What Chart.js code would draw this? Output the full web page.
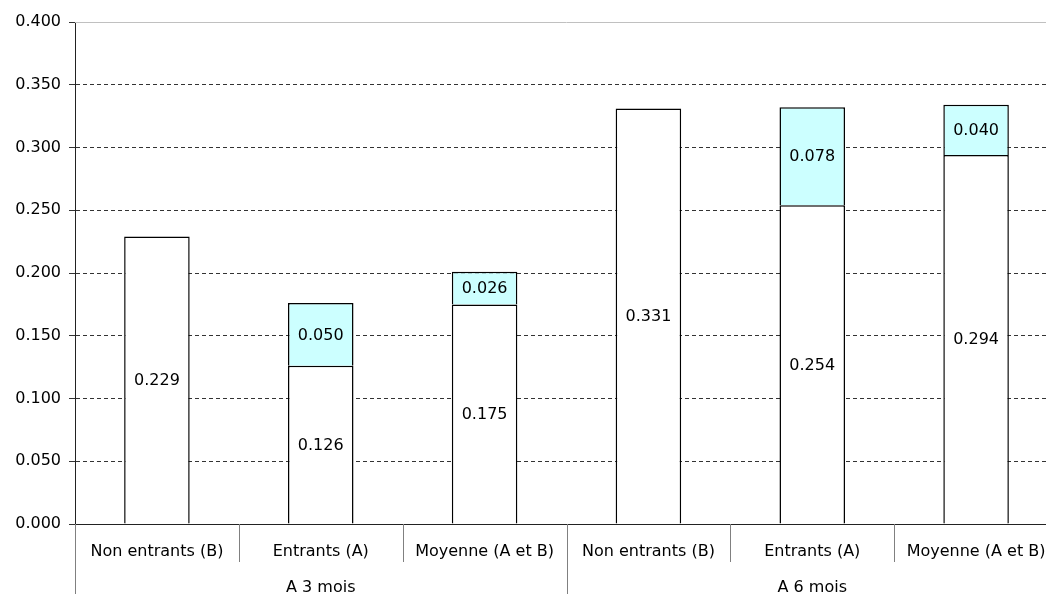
<!DOCTYPE html>
<html lang="fr">
<head>
<meta charset="UTF-8">
<title>A 3 mois / A 6 mois</title>
<script src="https://cdn.jsdelivr.net/npm/chart.js"></script>
<style>
  body { margin: 0; overflow: hidden; background: #fff; }
  #wrap { width: 1060px; height: 594px; }
</style>
</head>
<body>
<div id="wrap"><canvas id="myChart"></canvas></div>
<script>
const categories = ['Non entrants (B)', 'Entrants (A)', 'Moyenne (A et B)',
                    'Non entrants (B)', 'Entrants (A)', 'Moyenne (A et B)'];
const groups = ['A 3 mois', 'A 6 mois'];
const baseValues = [0.229, 0.126, 0.175, 0.331, 0.254, 0.294];
const extraValues = [null, 0.050, 0.026, null, 0.078, 0.040];
const yMin = 0, yMax = 0.4, yStep = 0.05;

const FONT = 'DejaVu Sans';

// values written in the middle of each bar segment
const segmentLabels = {
  id: 'segmentLabels',
  afterDatasetsDraw(chart) {
    const ctx = chart.ctx;
    ctx.save();
    ctx.font = '16px "' + FONT + '"';
    ctx.fillStyle = '#000';
    ctx.textAlign = 'center';
    ctx.textBaseline = 'middle';
    chart.data.datasets.forEach((ds, di) => {
      chart.getDatasetMeta(di).data.forEach((bar, i) => {
        const v = ds.data[i];
        if (v == null) return;
        const p = bar.getProps(['x', 'y', 'base'], true);
        ctx.fillText(v.toFixed(3), p.x, (p.y + p.base) / 2 + 1);
      });
    });
    ctx.restore();
  }
};

// category / group separators under the axis, and the top border
const separators = {
  id: 'separators',
  afterDraw(chart) {
    const ctx = chart.ctx;
    const xs = chart.scales.x;
    const area = chart.chartArea;
    const n = categories.length;
    const w = (xs.right - xs.left) / n;
    ctx.save();
    ctx.lineWidth = 1;
    ctx.strokeStyle = '#c0c0c0';
    ctx.beginPath();
    ctx.moveTo(area.left, Math.round(area.top) + 0.5);
    ctx.lineTo(area.right, Math.round(area.top) + 0.5);
    ctx.stroke();
    ctx.strokeStyle = '#808080';
    for (let i = 0; i <= n; i++) {
      const x = Math.round(xs.left + i * w) + 0.5;
      const long = i % 3 === 0;
      ctx.beginPath();
      ctx.moveTo(x, area.bottom);
      ctx.lineTo(x, long ? chart.height : xs.bottom);
      ctx.stroke();
    }
    ctx.restore();
  }
};

new Chart(document.getElementById('myChart'), {
  type: 'bar',
  data: {
    labels: categories,
    datasets: [{
      data: baseValues,
      backgroundColor: '#ffffff',
      borderColor: '#000000',
      borderWidth: 1.5,
      borderSkipped: 'bottom'
    }, {
      data: extraValues,
      backgroundColor: '#ccffff',
      borderColor: '#000000',
      borderWidth: 1.5,
      borderSkipped: 'bottom'
    }]
  },
  options: {
    responsive: true,
    maintainAspectRatio: false,
    animation: false,
    layout: { padding: { top: 22, right: 2, left: 0, bottom: 0 } },
    categoryPercentage: 1,
    barPercentage: 0.4,
    plugins: { legend: { display: false }, tooltip: { enabled: false } },
    scales: {
      x: {
        stacked: true,
        weight: 0,
        grid: { display: false },
        border: { display: true, color: '#222222', width: 1 },
        ticks: { color: '#000', font: { family: FONT, size: 16 }, padding: 10, maxRotation: 0, autoSkip: false },
        afterFit(scale) { scale.height = 38; }
      },
      x2: {
        type: 'category',
        position: 'bottom',
        labels: groups,
        offset: true,
        weight: 1,
        grid: { display: false },
        border: { display: false },
        ticks: { color: '#000', font: { family: FONT, size: 16 }, padding: 8, maxRotation: 0 },
        afterFit(scale) { scale.height = 32; }
      },
      y: {
        stacked: true,
        min: yMin,
        max: yMax,
        ticks: {
          stepSize: yStep,
          color: '#000',
          font: { family: FONT, size: 16 },
          padding: 8,
          callback: v => Number(v).toFixed(3)
        },
        grid: {
          color: c => (Math.abs(c.tick.value) < 1e-9 || Math.abs(c.tick.value - yMax) < 1e-9) ? 'rgba(0,0,0,0)' : '#333333',
          tickColor: '#333333',
          tickLength: 6,
          tickBorderDash: []
        },
        border: { display: true, color: '#222222', width: 1, dash: [4, 3] },
        afterFit(scale) { scale.width = 75; }
      }
    }
  },
  plugins: [segmentLabels, separators]
});
</script>
</body>
</html>
